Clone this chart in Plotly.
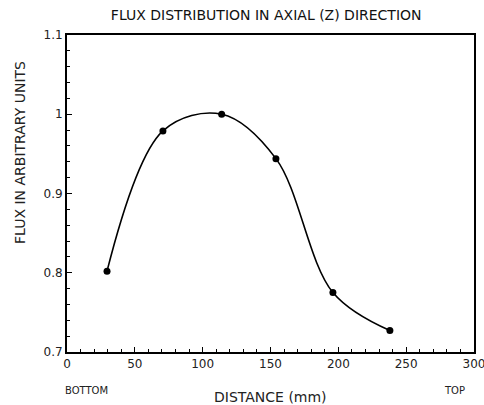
import plotly.graph_objects as go

distance_mm = [29.5, 70.7, 114, 154, 196, 238]
flux = [0.802, 0.979, 1.0, 0.944, 0.775, 0.727]

x_ticks = [0, 50, 100, 150, 200, 250, 300]
y_ticks = [0.7, 0.8, 0.9, 1.0, 1.1]
y_tick_text = ["0.7", "0.8", "0.9", "1", "1.1"]

FONT = "DejaVu Sans, Arial, sans-serif"
TXT = "#222"

fig = go.Figure()
fig.add_trace(go.Scatter(
    x=distance_mm, y=flux, mode="lines+markers",
    line=dict(color="black", width=1.6, shape="spline", smoothing=1.0),
    marker=dict(color="black", size=7),
    showlegend=False, cliponaxis=False,
))

fig.update_layout(
    width=484, height=405,
    margin=dict(l=67, r=10, t=35, b=53),
    paper_bgcolor="white", plot_bgcolor="white",
    font=dict(family=FONT, size=12, color=TXT),
    title=dict(text="FLUX DISTRIBUTION IN AXIAL (Z) DIRECTION",
               x=0.55, xanchor="center", y=0.963, yanchor="middle",
               font=dict(family=FONT, size=14, color="#111")),
    xaxis=dict(range=[0, 300], tickvals=x_ticks, ticks="inside", ticklen=5,
               tickwidth=1, tickcolor="black", showgrid=False, zeroline=False,
               showline=True, linecolor="black", linewidth=2, mirror=True,
               automargin=False, ticklabeloverflow="allow",
               minor=dict(dtick=10, ticks="inside", ticklen=3, tickwidth=1,
                          tickcolor="black"),
               tickfont=dict(family=FONT, size=12, color=TXT)),
    yaxis=dict(range=[0.7, 1.1], tickvals=y_ticks, ticktext=y_tick_text,
               ticks="inside", ticklen=5, tickwidth=1, tickcolor="black",
               showgrid=False, zeroline=False, automargin=False,
               showline=True, linecolor="black", linewidth=2, mirror=True,
               minor=dict(dtick=0.02, ticks="inside", ticklen=3, tickwidth=1,
                          tickcolor="black"),
               tickfont=dict(family=FONT, size=12, color=TXT)),
)

fig.add_annotation(text="FLUX IN ARBITRARY UNITS", xref="paper", yref="paper",
                   x=-0.1155, y=0.631, xanchor="center", yanchor="middle",
                   textangle=-90, showarrow=False,
                   font=dict(family=FONT, size=14, color=TXT))
fig.add_annotation(text="DISTANCE (mm)", xref="paper", yref="paper",
                   x=0.5, y=0, yanchor="middle", showarrow=False, yshift=-45,
                   font=dict(family=FONT, size=14, color=TXT))
fig.add_annotation(text="BOTTOM", xref="paper", yref="paper",
                   x=-0.01, y=0, yanchor="middle", showarrow=False, yshift=-38,
                   font=dict(family=FONT, size=10, color=TXT))
fig.add_annotation(text="TOP", xref="paper", yref="paper",
                   x=0.983, y=0, yanchor="middle", showarrow=False, yshift=-38,
                   font=dict(family=FONT, size=10, color=TXT))

fig.write_html("out.html", config={"displayModeBar": False},
               post_script="document.body.style.margin='0';document.body.style.overflow='hidden';")
